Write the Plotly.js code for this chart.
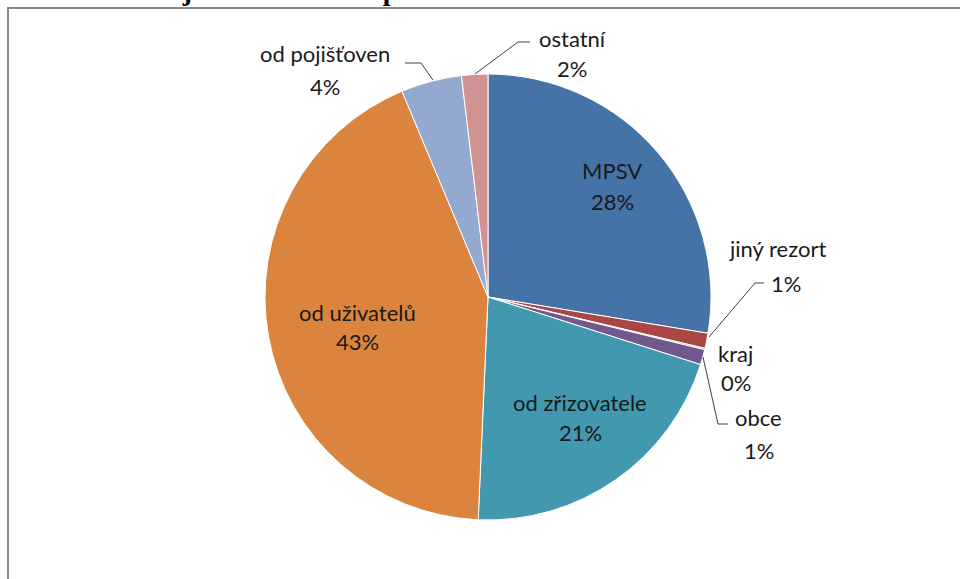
<!DOCTYPE html>
<html>
<head>
<meta charset="utf-8">
<script src="https://cdn.plot.ly/plotly-3.0.1.min.js"></script>
<style>html,body{margin:0;padding:0;background:#fff;}#chart{width:960px;height:579px;}</style>
</head>
<body>
<div id="chart"></div>
<script>
// ---- data ----
const categories = ["MPSV", "jiný rezort", "kraj", "obce", "od zřizovatele", "od uživatelů", "od pojišťoven", "ostatní"];
const shares = [27.6, 1.1, 0.1, 1.1, 20.8, 43.0, 4.4, 1.9];
const sliceColors = ["#4572A7", "#AA4643", "#89A54E", "#71588F", "#4198AF", "#DB843D", "#93A9CF", "#D19392"];
const chartTitle = "Struktura zdrojů financování v procentech";

// ---- layout helpers (pixel positions of labels, not data) ----
const W = 960, H = 579;
const px = x => x / W;
const py = y => 1 - y / H;
// [name x, name y, percent x, percent y]
const labelPos = [
  [612, 170, 612, 201],
  [777, 248, 786, 283],
  [735, 353, 736, 382],
  [758, 417, 759, 450],
  [580, 402, 580, 432],
  [357, 312, 357, 341],
  [325, 53, 325, 86],
  [572, 38, 572, 68]
];
const leaderPaths = [
  [[709, 337], [755, 283], [764, 283]],
  [[703, 357], [718, 424], [728, 424]],
  [[433, 80], [421, 63], [405, 63]],
  [[475, 74], [518, 42], [530, 42]]
];

const total = shares.reduce((a, b) => a + b, 0);
const pctText = shares.map(v => Math.round(v / total * 100) + "%");

const textFont = {family: "Lato, 'Open Sans', sans-serif", size: 22, color: "#1a1a1a"};
const annotations = [];
categories.forEach((c, i) => {
  const p = labelPos[i];
  annotations.push({xref: "paper", yref: "paper", x: px(p[0]), y: py(p[1]), text: c, showarrow: false, xanchor: "center", yanchor: "middle", font: textFont});
  annotations.push({xref: "paper", yref: "paper", x: px(p[2]), y: py(p[3]), text: pctText[i], showarrow: false, xanchor: "center", yanchor: "middle", font: textFont});
});
annotations.push({xref: "paper", yref: "paper", x: 0, y: py(8), xanchor: "left", yanchor: "bottom", text: "<b>" + chartTitle + "</b>", showarrow: false, font: {family: "'Liberation Serif', serif", size: 28, color: "#000"}});

const shapes = [{type: "rect", xref: "paper", yref: "paper", x0: px(8), y0: py(8), x1: 1.05, y1: -0.05, line: {color: "#8a8a8a", width: 2}, fillcolor: "rgba(0,0,0,0)", layer: "below"}];
leaderPaths.forEach(pts => {
  const d = pts.map((q, k) => (k ? "L" : "M") + px(q[0]) + "," + py(q[1])).join(" ");
  shapes.push({type: "path", xref: "paper", yref: "paper", path: d, line: {color: "#404040", width: 1}});
});

const cx = 488, cy = 297, r = 223;
const trace = {
  type: "pie",
  labels: categories,
  values: shares,
  sort: false,
  direction: "clockwise",
  rotation: 0,
  marker: {colors: sliceColors, line: {color: "#ffffff", width: 1}},
  textinfo: "none",
  hoverinfo: "label+percent",
  showlegend: false,
  domain: {x: [px(cx - r), px(cx + r)], y: [py(cy + r), py(cy - r)]}
};

const layout = {
  width: W, height: H,
  margin: {l: 0, r: 0, t: 0, b: 0},
  paper_bgcolor: "#ffffff",
  showlegend: false,
  annotations: annotations,
  shapes: shapes
};

Plotly.newPlot("chart", [trace], layout, {displayModeBar: false, staticPlot: true});
</script>
</body>
</html>
